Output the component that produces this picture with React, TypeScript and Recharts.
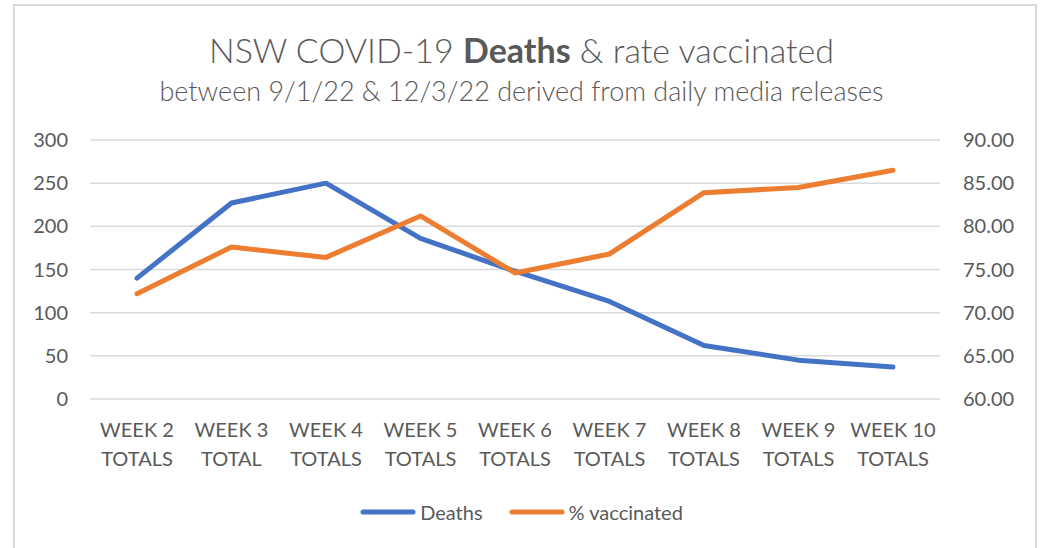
import React from "react";
import {
  LineChart,
  Line,
  XAxis,
  YAxis,
  CartesianGrid,
  Legend,
} from "recharts";

const categories = [
  "WEEK 2 TOTALS",
  "WEEK 3 TOTAL",
  "WEEK 4 TOTALS",
  "WEEK 5 TOTALS",
  "WEEK 6 TOTALS",
  "WEEK 7 TOTALS",
  "WEEK 8 TOTALS",
  "WEEK 9 TOTALS",
  "WEEK 10 TOTALS",
];
const deaths = [140, 227, 250, 186, 148, 113, 62, 45, 37];
const vaccinated = [72.2, 77.6, 76.4, 81.2, 74.6, 76.8, 83.9, 84.5, 86.5];
const leftTicks = [0, 50, 100, 150, 200, 250, 300];
const rightTicks = [60, 65, 70, 75, 80, 85, 90];
const seriesNames = ["Deaths", "% vaccinated"];
const colors = ["#4472C4", "#ED7D31"];

const data = categories.map((c, i) => ({
  name: c,
  deaths: deaths[i],
  vaccinated: vaccinated[i],
}));

const FONT = "Lato, 'Open Sans', sans-serif";
const TEXT = "#595959";

const XTick = (props: any) => {
  const { x, y, payload } = props;
  const s: string = payload.value;
  const idx = s.lastIndexOf(" ");
  const l1 = s.slice(0, idx);
  const l2 = s.slice(idx + 1);
  return (
    <text
      x={x}
      y={y}
      textAnchor="middle"
      fill={TEXT}
      fontFamily={FONT}
      fontSize={20}
    >
      <tspan x={x} dy={38}>
        {l1}
      </tspan>
      <tspan x={x} dy={29}>
        {l2}
      </tspan>
    </text>
  );
};

const LegendContent = () => (
  <div
    style={{
      display: "flex",
      justifyContent: "center",
      alignItems: "center",
      fontFamily: FONT,
      fontSize: 20,
      color: TEXT,
      gap: 26,
    }}
  >
    {seriesNames.map((n, i) => (
      <div key={n} style={{ display: "flex", alignItems: "center", gap: 4 }}>
        <svg width={56} height={10}>
          <line
            x1={3}
            y1={5}
            x2={53}
            y2={5}
            stroke={colors[i]}
            strokeWidth={5}
            strokeLinecap="round"
          />
        </svg>
        <span>{n}</span>
      </div>
    ))}
  </div>
);

export default function App() {
  return (
    <div
      style={{
        position: "absolute",
        left: 0,
        top: 0,
        width: 1043,
        height: 548,
        overflow: "hidden",
        background: "#fff",
      }}
    >
      <div
        style={{
          position: "absolute",
          left: 13,
          top: 4,
          width: 1020,
          height: 600,
          borderLeft: "2px solid #D9D9D9",
          borderTop: "2px solid #D9D9D9",
          borderRight: "2px solid #D9D9D9",
        }}
      />
      <div
        style={{
          position: "absolute",
          left: 0,
          top: 33,
          width: 1043,
          textAlign: "center",
          fontFamily: FONT,
          fontSize: 34,
          fontWeight: 300,
          lineHeight: 1,
          color: TEXT,
          whiteSpace: "nowrap",
        }}
      >
        NSW COVID-19 <span style={{ fontWeight: 700 }}>Deaths</span> &amp; rate
        vaccinated
      </div>
      <div
        style={{
          position: "absolute",
          left: 0,
          top: 77,
          width: 1043,
          textAlign: "center",
          fontFamily: FONT,
          fontSize: 27,
          fontWeight: 300,
          lineHeight: 1,
          color: TEXT,
          whiteSpace: "nowrap",
        }}
      >
        between 9/1/22 &amp; 12/3/22 derived from daily media releases
      </div>
      <div style={{ position: "absolute", left: 0, top: 0 }}>
        <LineChart
          width={1043}
          height={548}
          data={data}
          margin={{ top: 140, right: 0, bottom: 0, left: 0 }}
        >
          <CartesianGrid
            yAxisId="left"
            vertical={false}
            stroke="#D9D9D9"
            strokeWidth={1.5}
          />
          <XAxis
            dataKey="name"
            height={149}
            axisLine={false}
            tickLine={false}
            tickSize={0}
            tickMargin={0}
            interval={0}
            padding={{ left: 47, right: 47 }}
            tick={<XTick />}
          />
          <YAxis
            yAxisId="left"
            orientation="left"
            width={90}
            domain={[0, 300]}
            ticks={leftTicks}
            axisLine={false}
            tickLine={false}
            tickSize={0}
            tickMargin={22}
            tick={{ fill: TEXT, fontFamily: FONT, fontSize: 20 }}
          />
          <YAxis
            yAxisId="right"
            orientation="right"
            width={103}
            domain={[60, 90]}
            ticks={rightTicks}
            axisLine={false}
            tickLine={false}
            tickSize={0}
            tickMargin={23}
            tickFormatter={(v: number) => v.toFixed(2)}
            tick={{ fill: TEXT, fontFamily: FONT, fontSize: 20 }}
          />
          <Legend
            layout="horizontal"
            verticalAlign="middle"
            align="center"
            wrapperStyle={{ top: 500, left: 0, width: 1043 }}
            content={<LegendContent />}
          />
          <Line
            yAxisId="left"
            type="linear"
            dataKey="deaths"
            name={seriesNames[0]}
            stroke={colors[0]}
            strokeWidth={5}
            strokeLinecap="round"
            strokeLinejoin="round"
            dot={false}
            activeDot={false}
            isAnimationActive={false}
          />
          <Line
            yAxisId="right"
            type="linear"
            dataKey="vaccinated"
            name={seriesNames[1]}
            stroke={colors[1]}
            strokeWidth={5}
            strokeLinecap="round"
            strokeLinejoin="round"
            dot={false}
            activeDot={false}
            isAnimationActive={false}
          />
        </LineChart>
      </div>
    </div>
  );
}
